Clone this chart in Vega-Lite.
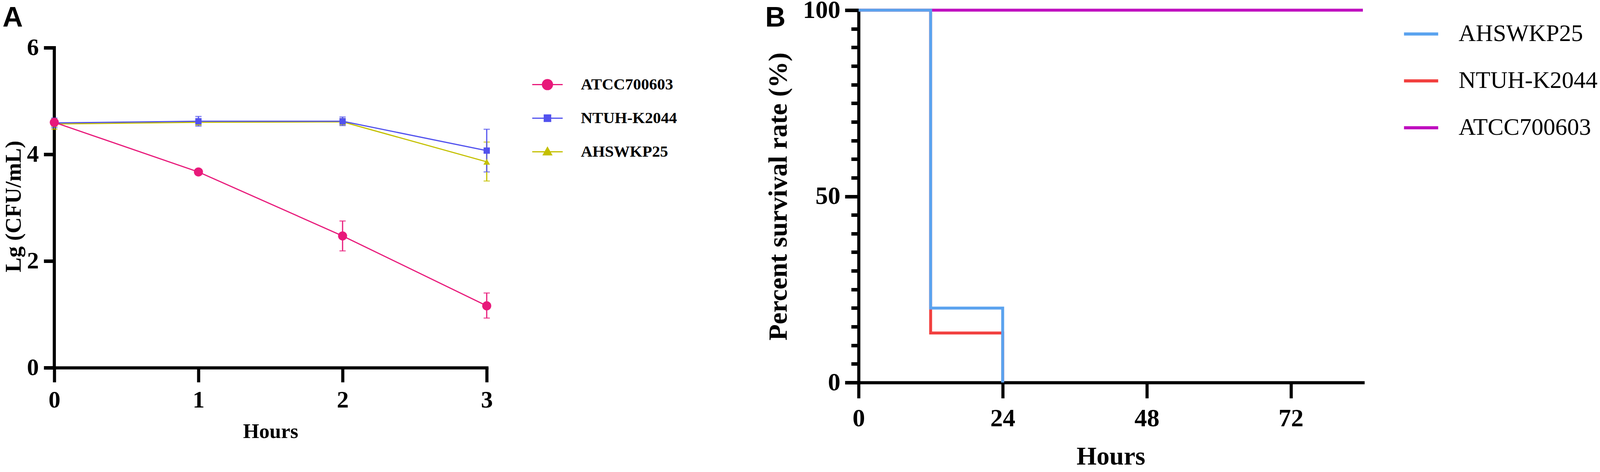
{
  "$schema": "https://vega.github.io/schema/vega-lite/v6.json",
  "background": "white",
  "padding": {"left": 6, "top": -6, "right": 0, "bottom": 0},
  "spacing": 226,
  "hconcat": [
    {
      "width": 1107,
      "height": 915,
      "title": {"text": "A", "font": "Liberation Sans", "fontSize": 72, "fontWeight": "bold", "color": "black", "anchor": "start", "frame": "bounds", "offset": -57},
      "data": {
        "values": [
          {"series": "AHSWKP25", "hour": 0, "mean": 4.57, "lo": 4.47, "hi": 4.67},
          {"series": "AHSWKP25", "hour": 1, "mean": 4.60, "lo": 4.55, "hi": 4.65},
          {"series": "AHSWKP25", "hour": 2, "mean": 4.61, "lo": 4.55, "hi": 4.67},
          {"series": "AHSWKP25", "hour": 3, "mean": 3.86, "lo": 3.50, "hi": 4.23},
          {"series": "NTUH-K2044", "hour": 0, "mean": 4.59, "lo": 4.50, "hi": 4.68},
          {"series": "NTUH-K2044", "hour": 1, "mean": 4.62, "lo": 4.53, "hi": 4.71},
          {"series": "NTUH-K2044", "hour": 2, "mean": 4.62, "lo": 4.54, "hi": 4.70},
          {"series": "NTUH-K2044", "hour": 3, "mean": 4.07, "lo": 3.67, "hi": 4.47},
          {"series": "ATCC700603", "hour": 0, "mean": 4.60, "lo": 4.57, "hi": 4.63},
          {"series": "ATCC700603", "hour": 1, "mean": 3.67, "lo": 3.64, "hi": 3.70},
          {"series": "ATCC700603", "hour": 2, "mean": 2.47, "lo": 2.19, "hi": 2.75},
          {"series": "ATCC700603", "hour": 3, "mean": 1.16, "lo": 0.93, "hi": 1.40}
        ]
      },
      "encoding": {
        "x": {
          "field": "hour", "type": "quantitative",
          "scale": {"domain": [0, 3], "nice": false},
          "axis": {"values": [0, 1, 2, 3], "format": "d", "title": "Hours", "tickSize": 37, "tickWidth": 8, "labelFontSize": 61, "labelPadding": 16, "titleFontSize": 53, "titlePadding": 24}
        },
        "color": {
          "field": "series", "type": "nominal",
          "scale": {"domain": ["ATCC700603", "NTUH-K2044", "AHSWKP25"], "range": ["#e8197a", "#5252ee", "#c4c000"]},
          "legend": {
            "orient": "none", "legendX": 1222, "legendY": 150, "title": null, "padding": 0,
            "labelFont": "Liberation Serif", "labelFontWeight": "bold", "labelFontSize": 41, "labelColor": "black", "labelLimit": 1000,
            "symbolSize": 6084, "symbolStrokeWidth": 3, "rowPadding": 25, "labelOffset": 45,
            "encode": {
              "symbols": {
                "update": {
                  "shape": {"signal": "datum.value === 'ATCC700603' ? 'M-1,0H1M-0.33,0A0.33,0.33,0,1,1,0.33,0A0.33,0.33,0,1,1,-0.33,0Z' : datum.value === 'NTUH-K2044' ? 'M-1,0H1M-0.21,-0.21H0.21V0.21H-0.21Z' : 'M-1,0H1M0,-0.28L0.27,0.2L-0.27,0.2Z'"},
                  "fill": {"signal": "datum.value === 'ATCC700603' ? '#e8197a' : datum.value === 'NTUH-K2044' ? '#5252ee' : '#c4c000'"},
                  "stroke": {"signal": "datum.value === 'ATCC700603' ? '#e8197a' : datum.value === 'NTUH-K2044' ? '#5252ee' : '#c4c000'"},
                  "strokeWidth": {"value": 3},
                  "opacity": {"value": 1}
                }
              }
            }
          }
        }
      },
      "layer": [
        {
          "mark": {"type": "rule", "color": "black", "strokeWidth": 8, "strokeCap": "square"},
          "encoding": {"x": {"datum": 0}, "y": {"datum": 0}, "y2": {"datum": 6}, "color": {"value": "black"}}
        },
        {
          "mark": {"type": "errorbar", "thickness": 3, "ticks": {"size": 16, "thickness": 3}},
          "encoding": {
            "y": {
              "field": "lo", "type": "quantitative",
              "scale": {"domain": [0, 6.7033], "nice": false},
              "axis": {"values": [0, 2, 4, 6], "format": "d", "domain": false, "title": "Lg (CFU/mL)", "tickSize": 27, "tickWidth": 9, "labelFontSize": 61, "labelPadding": 13, "titleFontSize": 57, "titlePadding": 4, "titleY": 502}
            },
            "y2": {"field": "hi"}
          }
        },
        {
          "mark": {"type": "line", "strokeWidth": 3},
          "encoding": {"y": {"field": "mean", "type": "quantitative", "title": "Lg (CFU/mL)"}}
        },
        {
          "transform": [{"filter": "datum.series === 'AHSWKP25'"}],
          "mark": {"type": "point", "shape": "triangle-up", "size": 290, "filled": true, "opacity": 1},
          "encoding": {"y": {"field": "mean", "type": "quantitative", "title": "Lg (CFU/mL)"}}
        },
        {
          "transform": [{"filter": "datum.series === 'NTUH-K2044'"}],
          "mark": {"type": "point", "shape": "square", "size": 260, "filled": true, "opacity": 1},
          "encoding": {"y": {"field": "mean", "type": "quantitative", "title": "Lg (CFU/mL)"}}
        },
        {
          "transform": [{"filter": "datum.series === 'ATCC700603'"}],
          "mark": {"type": "point", "shape": "circle", "size": 540, "filled": true, "opacity": 1},
          "encoding": {"y": {"field": "mean", "type": "quantitative", "title": "Lg (CFU/mL)"}}
        }
      ]
    },
    {
      "width": 1291,
      "height": 953,
      "title": {"text": "B", "font": "Liberation Sans", "fontSize": 72, "fontWeight": "bold", "color": "black", "anchor": "start", "frame": "bounds", "offset": -89},
      "data": {
        "values": [
          {"series": "ATCC700603", "hour": 0, "pct": 100},
          {"series": "ATCC700603", "hour": 84, "pct": 100},
          {"series": "NTUH-K2044", "hour": 0, "pct": 100},
          {"series": "NTUH-K2044", "hour": 12, "pct": 13.3},
          {"series": "NTUH-K2044", "hour": 24, "pct": 0},
          {"series": "AHSWKP25", "hour": 0, "pct": 100},
          {"series": "AHSWKP25", "hour": 12, "pct": 20},
          {"series": "AHSWKP25", "hour": 24, "pct": 0}
        ]
      },
      "mark": {"type": "line", "interpolate": "step-after", "strokeWidth": 7.5},
      "encoding": {
        "x": {
          "field": "hour", "type": "quantitative",
          "scale": {"domain": [0, 84], "nice": false},
          "axis": {"values": [0, 24, 48, 72], "title": "Hours", "tickSize": 40, "tickWidth": 8, "labelFontSize": 64, "labelPadding": 20, "titleFontSize": 66, "titlePadding": 33}
        },
        "y": {
          "field": "pct", "type": "quantitative",
          "scale": {"domain": [0, 100], "nice": false},
          "axis": {
            "values": [0, 5, 10, 15, 20, 25, 30, 35, 40, 45, 50, 55, 60, 65, 70, 75, 80, 85, 90, 95, 100],
            "labelExpr": "datum.value % 50 === 0 ? datum.label : ''",
            "tickSize": {"condition": {"test": "datum.value % 50 === 0", "value": 35}, "value": 19},
            "tickWidth": 9,
            "title": "Percent survival rate (%)", "labelFontSize": 64, "labelPadding": 12, "titleFontSize": 68, "titlePadding": 28
          }
        },
        "color": {
          "field": "series", "type": "nominal",
          "scale": {"domain": ["AHSWKP25", "NTUH-K2044", "ATCC700603"], "range": ["#5ba3ef", "#f2403f", "#bf0fbf"]},
          "legend": {
            "orient": "none", "legendX": 1392, "legendY": 13, "title": null, "padding": 0,
            "labelFont": "Liberation Serif", "labelFontWeight": "normal", "labelFontSize": 61, "labelColor": "black", "labelLimit": 1000,
            "symbolType": "stroke", "symbolSize": 7656, "symbolStrokeWidth": 8, "rowPadding": 42, "labelOffset": 48
          }
        }
      }
    }
  ],
  "resolve": {"scale": {"color": "independent"}, "legend": {"color": "independent"}},
  "config": {
    "view": {"stroke": null},
    "axis": {
      "grid": false,
      "domainColor": "black", "domainWidth": 8, "domainCap": "square",
      "tickColor": "black",
      "labelColor": "black", "labelFont": "Liberation Serif", "labelFontWeight": "bold",
      "labelFlush": false, "labelOverlap": false,
      "titleColor": "black", "titleFont": "Liberation Serif", "titleFontWeight": "bold"
    }
  }
}
